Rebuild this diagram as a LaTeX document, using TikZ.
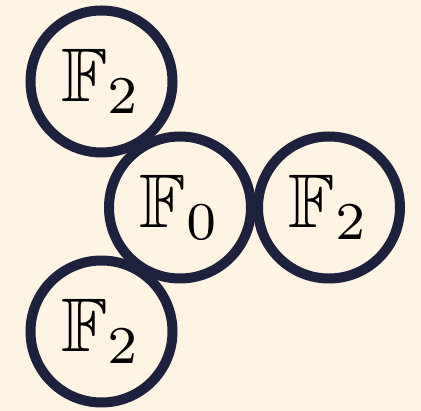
\documentclass[tikz,border=0pt]{standalone}
\usepackage{amssymb}
\usepackage{graphicx}
\definecolor{bgc}{RGB}{254,244,228}
\definecolor{ringc}{RGB}{30,33,62}
\tikzset{
  ring/.style={circle, draw=ringc, line width=10pt, minimum size=142pt, inner sep=0pt, fill=none},
}
\newcommand{\lbl}[1]{\scalebox{7.6}{$\mathbb{F}_{#1}$}}
\begin{document}
\begin{tikzpicture}[x=1pt,y=-1pt]
\fill[bgc] (0,0) rectangle (421,411);
\useasboundingbox (0,0) rectangle (421,411);
\node[ring] (tl) at (101.5,81.5) {\lbl{2}};
\node[ring] (mid) at (180,207.5) {\lbl{0}};
\node[ring] (rt) at (329,207.5) {\lbl{2}};
\node[ring] (bl) at (101.5,331.5) {\lbl{2}};
\end{tikzpicture}
\end{document}
